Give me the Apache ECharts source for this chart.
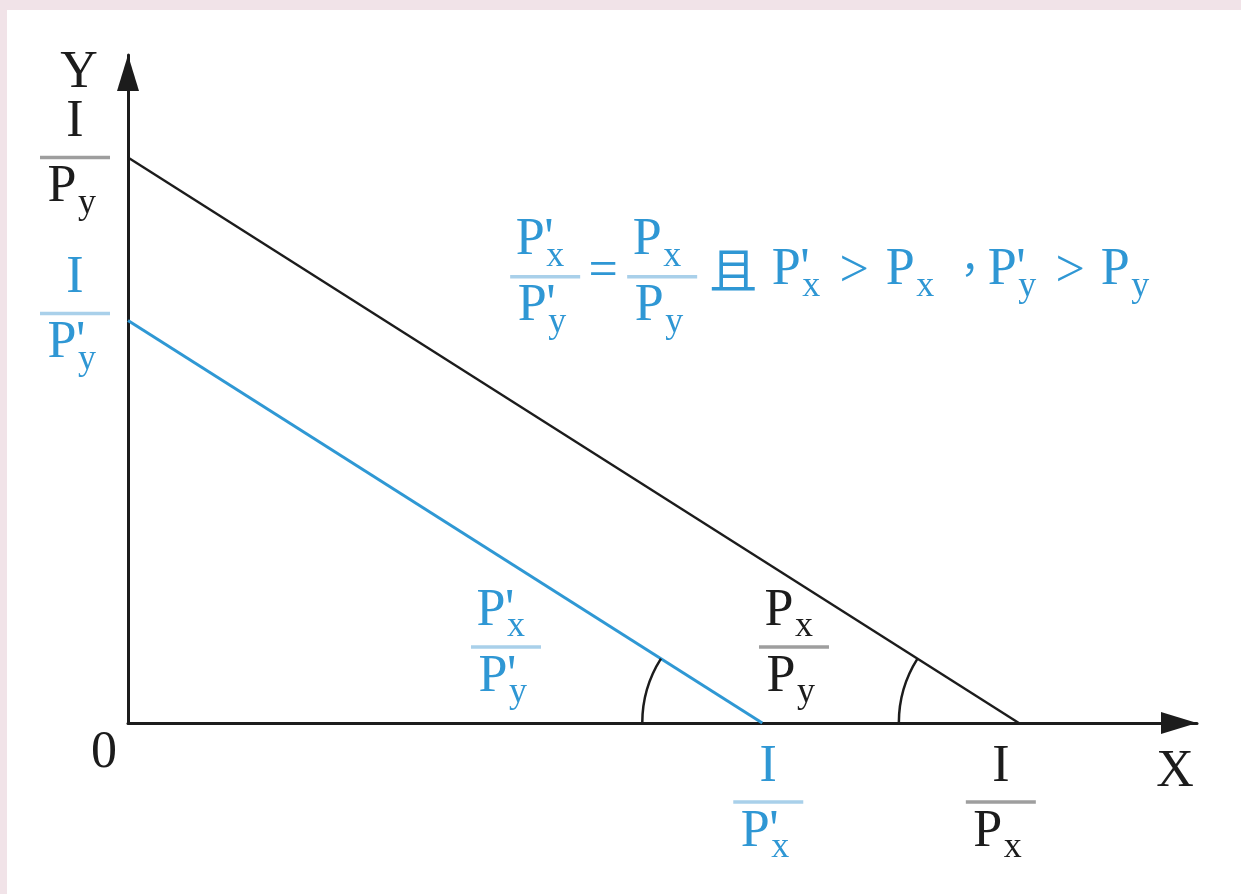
<!DOCTYPE html>
<html>
<head>
<meta charset="utf-8">
<script src="https://cdn.jsdelivr.net/npm/echarts@6/dist/echarts.min.js"></script>
<style>
html,body{margin:0;padding:0;background:#fff;}
#chart{width:1241px;height:894px;}
</style>
</head>
<body>
<div id="chart"></div>
<script>
// ---------------- data ----------------
const axisNames = ['X', 'Y'];
const originLabel = '0';
// budget line before price change: (0, I/Py) -> (I/Px, 0)
const budgetOriginal = [[0, 6.35], [10, 0]];
// budget line after both prices rise proportionally: (0, I/P'y) -> (I/P'x, 0)
const budgetNew = [[0, 4.52], [7.12, 0]];
// tick labels (fractions written as "numerator / denominator", ' = prime, _ = subscript)
const yTickLabels = ['I / P_y', "I / P'_y"];
const xTickLabels = ['I / P_x', "I / P'_x"];
const slopeLabels = ['P_x / P_y', "P'_x / P'_y"];
const conditionParts = ["P'_x / P'_y", '=', 'P_x / P_y', '且', "P'_x", '>', 'P_x', '，', "P'_y", '>', 'P_y'];

// ---------------- layout / style ----------------
const X_MAX = 12, Y_MAX = 7.5;
const BLACK = '#1c1c1c';
const BLUE = '#2f98d4';
const BLUE_TEXT = '#2f97d4';
const BAR_BLACK = '#9e9e9e';
const BAR_BLUE = '#a9d0ea';
const SERIF = '"Liberation Serif", "DejaVu Serif", serif';
const MAIN = 52, SUB = 36;
const slopeLabelAnchors = [[7.476, 0.853], [4.243, 0.853]];
const conditionAnchor = [4.29, 5.01];
const conditionOffsets = [35, 93, 152, 223, 276, 344, 390, 450, 492, 560, 605];

function txt(s, x, y, color, size, align, font) {
  return {
    type: 'text', x: x, y: y, silent: true,
    style: {
      text: s, fill: color,
      font: size + 'px ' + (font || SERIF),
      align: align || 'center', verticalAlign: 'middle'
    }
  };
}
function term(str, px, py, color, out) {
  str = str.trim();
  const main = str[0];
  const prime = str.indexOf("'") >= 0;
  const sub = str.indexOf('_') >= 0 ? str.split('_')[1] : '';
  out.push(txt(main, px, py, color, MAIN));
  if (prime) out.push(txt("'", px + 14, py, color, MAIN, 'left'));
  if (sub) out.push(txt(sub, px + 16, py + 16, color, SUB, 'left'));
}
function frac(str, cx, by, color, barColor, out) {
  const parts = str.split('/');
  const num = parts[0].trim(), den = parts[1].trim();
  out.push({
    type: 'line', silent: true,
    shape: { x1: cx - 35, y1: by, x2: cx + 35, y2: by },
    style: { stroke: barColor, lineWidth: 3.5 }
  });
  if (num === 'I') out.push(txt('I', cx, by - 35, color, MAIN));
  else term(num, cx - 15, by - 36, color, out);
  term(den, cx - 13, by + 30, color, out);
}

function renderAll(params, api) {
  const kids = [];
  const o = api.coord([0, 0]);
  const yTop = api.coord([0, Y_MAX]);
  const xEnd = api.coord([X_MAX, 0]);

  // angle arcs at the x-intercepts
  [[budgetOriginal, BLACK], [budgetNew, BLACK]].forEach(function (b) {
    const p0 = api.coord(b[0][0]);
    const p1 = api.coord(b[0][1]);
    const ang = Math.atan2(p0[1] - p1[1], p0[0] - p1[0]);
    const end = ang < 0 ? ang + 2 * Math.PI : ang;
    kids.push({
      type: 'arc', silent: true,
      shape: { cx: p1[0], cy: p1[1], r: 120, startAngle: Math.PI, endAngle: end, clockwise: true },
      style: { stroke: b[1], lineWidth: 2.5, fill: null }
    });
  });

  // axis names and origin
  kids.push(txt(axisNames[1], yTop[0] - 49, yTop[1] + 18, BLACK, MAIN));
  kids.push(txt(axisNames[0], xEnd[0] - 22, xEnd[1] + 49, BLACK, MAIN));
  kids.push(txt(originLabel, o[0] - 24, o[1] + 30, BLACK, MAIN));

  // intercept labels
  const yb = api.coord(budgetOriginal[0]);
  frac(yTickLabels[0], o[0] - 53, yb[1], BLACK, BAR_BLACK, kids);
  const yn = api.coord(budgetNew[0]);
  frac(yTickLabels[1], o[0] - 53, yn[1] - 7, BLUE_TEXT, BAR_BLUE, kids);
  const xb = api.coord(budgetOriginal[1]);
  frac(xTickLabels[0], xb[0] - 18, o[1] + 79, BLACK, BAR_BLACK, kids);
  const xn = api.coord(budgetNew[1]);
  frac(xTickLabels[1], xn[0] + 6, o[1] + 79, BLUE_TEXT, BAR_BLUE, kids);

  // slope labels
  const s0 = api.coord(slopeLabelAnchors[0]);
  frac(slopeLabels[0], s0[0], s0[1], BLACK, BAR_BLACK, kids);
  const s1 = api.coord(slopeLabelAnchors[1]);
  frac(slopeLabels[1], s1[0], s1[1], BLUE_TEXT, BAR_BLUE, kids);

  // condition formula
  const a = api.coord(conditionAnchor);
  conditionParts.forEach(function (p, i) {
    const x = a[0] + conditionOffsets[i];
    if (p.indexOf('/') >= 0) frac(p, x, a[1], BLUE_TEXT, BAR_BLUE, kids);
    else if (p === '=' || p === '>') kids.push(txt(p, x, a[1] - 4, BLUE_TEXT, MAIN));
    else if (p === '且') kids.push(txt(p, x, a[1] - 7, BLUE_TEXT, 48, 'center', '"Noto Sans CJK SC"'));
    else if (p === '，') kids.push(txt(p, x, a[1] - 20, BLUE_TEXT, 40, 'left', '"Noto Sans CJK SC"'));
    else term(p, x, a[1] - 6, BLUE_TEXT, kids);
  });

  return { type: 'group', children: kids };
}

const chart = echarts.init(document.getElementById('chart'), null, { renderer: 'canvas' });
const axisCommon = {
  type: 'value',
  axisLine: {
    show: true, onZero: false,
    symbol: ['none', 'triangle'],
    symbolSize: [22, 36],
    symbolOffset: [0, -18],
    lineStyle: { color: BLACK, width: 3 }
  },
  axisTick: { show: false },
  axisLabel: { show: false },
  splitLine: { show: false }
};
chart.setOption({
  backgroundColor: '#ffffff',
  animation: false,
  graphic: [
    { type: 'rect', left: 0, top: 0, shape: { width: 1241, height: 10 }, style: { fill: '#f1e3e8' }, silent: true },
    { type: 'rect', left: 0, top: 0, shape: { width: 7, height: 894 }, style: { fill: '#f1e3e8' }, silent: true }
  ],
  grid: { left: 128, right: 44, top: 55, bottom: 171 },
  xAxis: Object.assign({}, axisCommon, { min: 0, max: X_MAX }),
  yAxis: Object.assign({}, axisCommon, { min: 0, max: Y_MAX }),
  series: [
    {
      type: 'line', data: budgetOriginal, symbol: 'none', silent: true,
      lineStyle: { color: BLACK, width: 2.4 }, z: 3
    },
    {
      type: 'line', data: budgetNew, symbol: 'none', silent: true,
      lineStyle: { color: BLUE, width: 3 }, z: 3
    },
    {
      type: 'custom', renderItem: renderAll, data: [[0, 0]], clip: false, silent: true, z: 4
    }
  ]
});
</script>
</body>
</html>
